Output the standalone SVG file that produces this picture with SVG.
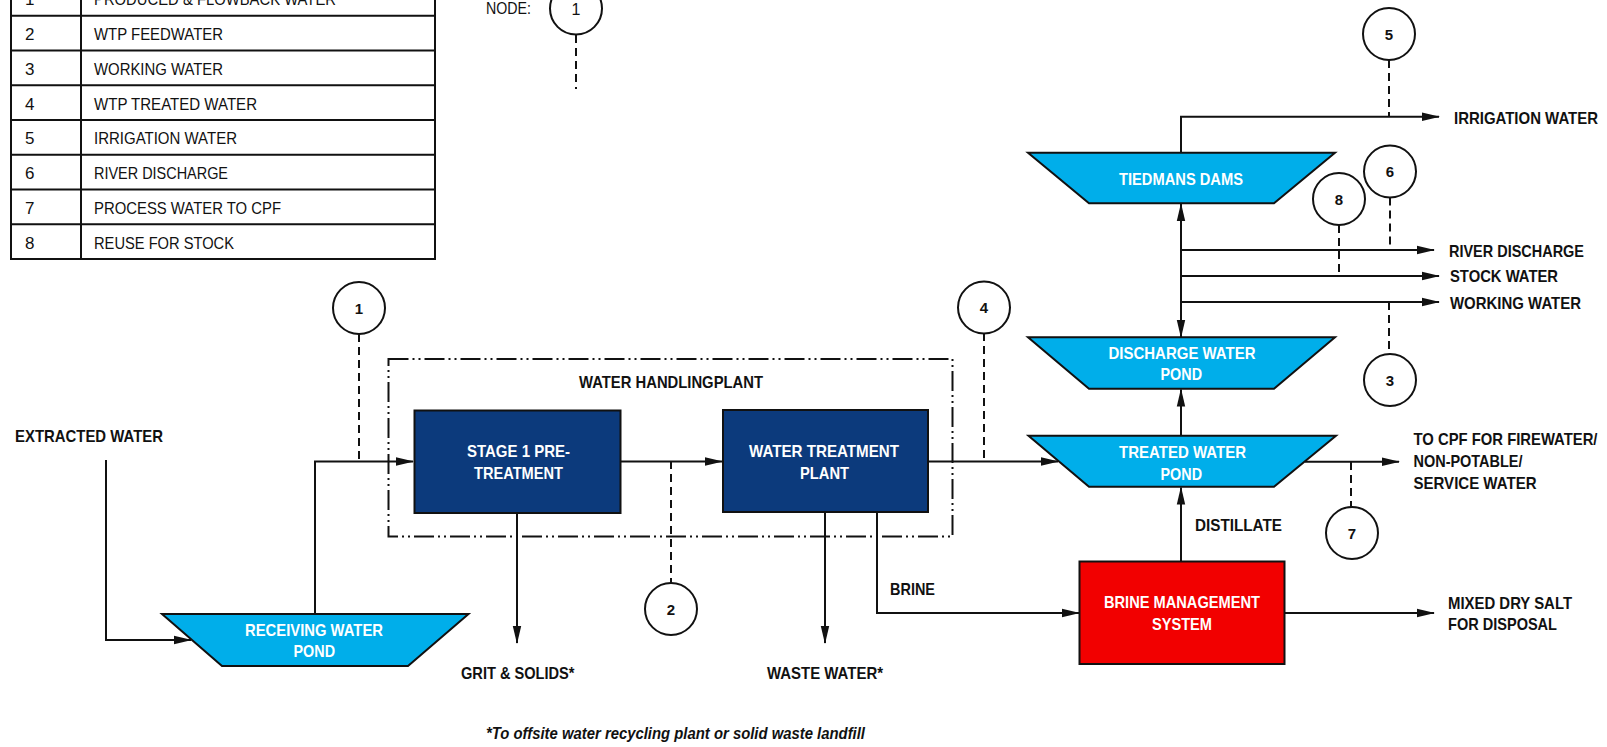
<svg xmlns="http://www.w3.org/2000/svg" width="1607" height="747" viewBox="0 0 1607 747">
<defs>
<style>
.ln{fill:none;stroke:#111;stroke-width:2}
.arr{marker-end:url(#ah)}
.dash{fill:none;stroke:#111;stroke-width:2;stroke-dasharray:8 5}
.box{stroke:#111;stroke-width:2}
.pond{fill:#00AEEA;stroke:#111;stroke-width:2}
.blue{fill:#0C3A7C}
.red{fill:#F20000}
.circ{fill:#fff;stroke:#111;stroke-width:2}
.t{font-family:"Liberation Sans",Arial,sans-serif;font-size:16.5px;fill:#111}
.tb{font-family:"Liberation Sans",Arial,sans-serif;font-size:17px;fill:#111}
.b{font-weight:bold}
.w{fill:#fff}
.n{font-family:"Liberation Sans",Arial,sans-serif;font-size:15px;font-weight:bold;fill:#111;text-anchor:middle}
</style>
<marker id="ah" markerUnits="userSpaceOnUse" markerWidth="18" markerHeight="10" viewBox="0 0 18 10" refX="17" refY="5" orient="auto-start-reverse">
<path d="M0,0.8 L18,5 L0,9.2 Z" fill="#111"/>
</marker>
</defs>
<rect width="1607" height="747" fill="#fff"/>

<g id="legend-table">
<rect x="11" y="-19" width="424" height="278" fill="none" stroke="#111" stroke-width="2"/>
<path class="ln" d="M81,-19 V259 M11,15.7 H435 M11,50.45 H435 M11,85.2 H435 M11,119.95 H435 M11,154.7 H435 M11,189.45 H435 M11,224.2 H435"/>
<text class="tb" x="25" y="5.3">1</text><text class="tb" x="94" y="5.3" textLength="242" lengthAdjust="spacingAndGlyphs">PRODUCED &amp; FLOWBACK WATER</text>
<text class="tb" x="25" y="40.05">2</text><text class="tb" x="94" y="40.05" textLength="129" lengthAdjust="spacingAndGlyphs">WTP FEEDWATER</text>
<text class="tb" x="25" y="74.8">3</text><text class="tb" x="94" y="74.8" textLength="129" lengthAdjust="spacingAndGlyphs">WORKING WATER</text>
<text class="tb" x="25" y="109.55">4</text><text class="tb" x="94" y="109.55" textLength="163" lengthAdjust="spacingAndGlyphs">WTP TREATED WATER</text>
<text class="tb" x="25" y="144.3">5</text><text class="tb" x="94" y="144.3" textLength="143" lengthAdjust="spacingAndGlyphs">IRRIGATION WATER</text>
<text class="tb" x="25" y="179.05">6</text><text class="tb" x="94" y="179.05" textLength="134" lengthAdjust="spacingAndGlyphs">RIVER DISCHARGE</text>
<text class="tb" x="25" y="213.8">7</text><text class="tb" x="94" y="213.8" textLength="187" lengthAdjust="spacingAndGlyphs">PROCESS WATER TO CPF</text>
<text class="tb" x="25" y="248.55">8</text><text class="tb" x="94" y="248.55" textLength="140" lengthAdjust="spacingAndGlyphs">REUSE FOR STOCK</text>
</g>

<g id="legend-node">
<text class="tb" x="486" y="14" textLength="45" lengthAdjust="spacingAndGlyphs">NODE:</text>
<circle class="circ" cx="576" cy="8.5" r="26"/>
<text class="n" x="576" y="15" style="font-weight:normal;font-size:16px">1</text>
<line class="dash" x1="576" y1="35" x2="576" y2="89"/>
</g>

<g id="water-handling-plant">
<rect x="388.5" y="359" width="564" height="177.5" fill="none" stroke="#111" stroke-width="2" stroke-dasharray="20 4 2 4 2 4"/>
<text class="t b" x="579" y="388" textLength="184" lengthAdjust="spacingAndGlyphs">WATER HANDLINGPLANT</text>
</g>

<g id="connectors">
<path class="ln arr" d="M106,460 V640 H191"/>
<path class="ln arr" d="M315,614 V461.5 H413"/>
<path class="ln arr" d="M620,461.5 H722"/>
<path class="ln arr" d="M928,461.5 H1058"/>
<path class="ln arr" d="M517,513 V643"/>
<path class="ln arr" d="M825,512 V643"/>
<path class="ln arr" d="M877,512 V613 H1079"/>
<path class="ln arr" d="M1181,561.5 V487.5"/>
<path class="ln arr" d="M1181,435.5 V389.5"/>
<path class="ln arr" d="M1181,204 V337" marker-start="url(#ah)"/>
<path class="ln arr" d="M1181,250 H1434"/>
<path class="ln arr" d="M1181,276 H1439"/>
<path class="ln arr" d="M1181,302 H1439"/>
<path class="ln arr" d="M1181,152.5 V116.7 H1439"/>
<path class="ln arr" d="M1305,461.7 H1399"/>
<path class="ln arr" d="M1284.5,613 H1434"/>
<line class="dash" x1="359" y1="334" x2="359" y2="461"/>
<line class="dash" x1="671" y1="461" x2="671" y2="583"/>
<line class="dash" x1="984" y1="333" x2="984" y2="461"/>
<line class="dash" x1="1389" y1="60" x2="1389" y2="116"/>
<line class="dash" x1="1390" y1="197.5" x2="1390" y2="249"/>
<line class="dash" x1="1339" y1="225" x2="1339" y2="275"/>
<line class="dash" x1="1389" y1="302" x2="1389" y2="354"/>
<line class="dash" x1="1351" y1="462" x2="1351" y2="507"/>
</g>

<g id="node1"><circle class="circ" cx="359" cy="308" r="26"/><text class="n" x="359" y="313.5">1</text></g>
<g id="node2"><circle class="circ" cx="671" cy="609" r="26"/><text class="n" x="671" y="614.5">2</text></g>
<g id="node3"><circle class="circ" cx="1390" cy="380" r="26"/><text class="n" x="1390" y="385.5">3</text></g>
<g id="node4"><circle class="circ" cx="984" cy="307.5" r="26"/><text class="n" x="984" y="313">4</text></g>
<g id="node5"><circle class="circ" cx="1389" cy="34" r="26"/><text class="n" x="1389" y="39.5">5</text></g>
<g id="node6"><circle class="circ" cx="1390" cy="171.5" r="26"/><text class="n" x="1390" y="177">6</text></g>
<g id="node7"><circle class="circ" cx="1352" cy="533" r="26"/><text class="n" x="1352" y="538.5">7</text></g>
<g id="node8"><circle class="circ" cx="1339" cy="199" r="26"/><text class="n" x="1339" y="204.5">8</text></g>

<g id="receiving-pond">
<polygon class="pond" points="162,614 468.5,614 408,666 222,666"/>
<text class="t b w" x="245" y="636" textLength="138" lengthAdjust="spacingAndGlyphs">RECEIVING WATER</text>
<text class="t b w" x="293.5" y="657" textLength="41.5" lengthAdjust="spacingAndGlyphs">POND</text>
</g>

<g id="stage1">
<rect class="box blue" x="414.5" y="410.5" width="206" height="102.5"/>
<text class="t b w" x="467" y="457" textLength="103" lengthAdjust="spacingAndGlyphs">STAGE 1 PRE-</text>
<text class="t b w" x="474" y="479" textLength="89" lengthAdjust="spacingAndGlyphs">TREATMENT</text>
</g>

<g id="wtp">
<rect class="box blue" x="723" y="410" width="205" height="102"/>
<text class="t b w" x="749" y="457" textLength="150" lengthAdjust="spacingAndGlyphs">WATER TREATMENT</text>
<text class="t b w" x="800" y="478.5" textLength="49" lengthAdjust="spacingAndGlyphs">PLANT</text>
</g>

<g id="tiedmans-dams">
<polygon class="pond" points="1028,152.7 1335,152.7 1274,203.3 1089,203.3"/>
<text class="t b w" x="1119" y="184.5" textLength="124" lengthAdjust="spacingAndGlyphs">TIEDMANS DAMS</text>
</g>

<g id="discharge-pond">
<polygon class="pond" points="1028,337.3 1335,337.3 1274,388.7 1089,388.7"/>
<text class="t b w" x="1108.5" y="358.5" textLength="147" lengthAdjust="spacingAndGlyphs">DISCHARGE WATER</text>
<text class="t b w" x="1160.5" y="380" textLength="41.5" lengthAdjust="spacingAndGlyphs">POND</text>
</g>

<g id="treated-pond">
<polygon class="pond" points="1028.5,435.7 1336,435.7 1274,486.7 1089,486.7"/>
<text class="t b w" x="1119" y="457.5" textLength="127" lengthAdjust="spacingAndGlyphs">TREATED WATER</text>
<text class="t b w" x="1160.5" y="479.5" textLength="41.5" lengthAdjust="spacingAndGlyphs">POND</text>
</g>

<g id="brine-management">
<rect class="box red" x="1079.5" y="561.5" width="205" height="102.5"/>
<text class="t b w" x="1104" y="607.5" textLength="156" lengthAdjust="spacingAndGlyphs">BRINE MANAGEMENT</text>
<text class="t b w" x="1152" y="629.5" textLength="60" lengthAdjust="spacingAndGlyphs">SYSTEM</text>
</g>

<g id="labels">
<text class="tb b" x="15" y="441.5" textLength="148" lengthAdjust="spacingAndGlyphs">EXTRACTED WATER</text>
<text class="t b" x="461" y="678.5" textLength="113.5" lengthAdjust="spacingAndGlyphs">GRIT &amp; SOLIDS*</text>
<text class="t b" x="767" y="678.5" textLength="116" lengthAdjust="spacingAndGlyphs">WASTE WATER*</text>
<text class="t b" x="890" y="595" textLength="45" lengthAdjust="spacingAndGlyphs">BRINE</text>
<text class="t b" x="1195" y="531" textLength="87" lengthAdjust="spacingAndGlyphs">DISTILLATE</text>
<text class="t b" x="1454" y="123.5" textLength="144" lengthAdjust="spacingAndGlyphs">IRRIGATION WATER</text>
<text class="t b" x="1449" y="257" textLength="135" lengthAdjust="spacingAndGlyphs">RIVER DISCHARGE</text>
<text class="t b" x="1450" y="282" textLength="108" lengthAdjust="spacingAndGlyphs">STOCK WATER</text>
<text class="t b" x="1450" y="308.5" textLength="131" lengthAdjust="spacingAndGlyphs">WORKING WATER</text>
<text class="t b" x="1413.5" y="445" textLength="184" lengthAdjust="spacingAndGlyphs">TO CPF FOR FIREWATER/</text>
<text class="t b" x="1413.5" y="467" textLength="109" lengthAdjust="spacingAndGlyphs">NON-POTABLE/</text>
<text class="t b" x="1413.5" y="488.5" textLength="123" lengthAdjust="spacingAndGlyphs">SERVICE WATER</text>
<text class="t b" x="1448" y="609" textLength="124" lengthAdjust="spacingAndGlyphs">MIXED DRY SALT</text>
<text class="t b" x="1448" y="630" textLength="109" lengthAdjust="spacingAndGlyphs">FOR DISPOSAL</text>
<text class="t b" x="486" y="738.5" font-style="italic" textLength="379" lengthAdjust="spacingAndGlyphs">*To offsite water recycling plant or solid waste landfill</text>
</g>
</svg>
